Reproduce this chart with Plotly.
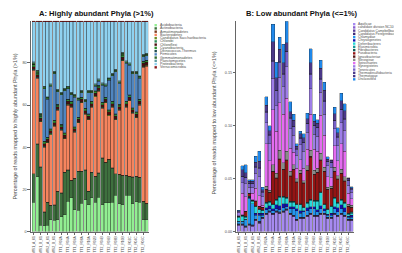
import plotly.graph_objects as go

W, H = 402, 253

samples = ["WS1_A_01", "WS1_A_02", "WS1_B_01", "WS1_B_02", "WS2_A_01", "WS2_A_02", "WS2_B_01",
           "TT1_R01A", "TT1_R02A", "TT1_R03A", "TT1_R04A", "TT1_R05A", "TT1_R06A", "TT1_R07A",
           "TT1_R08A", "TT1_R09A", "TT1_R10A", "TT2_R01B", "TT2_R02B", "TT2_R03B", "TT2_R04B",
           "TT2_R05B", "TT2_R06B", "TT2_R07B", "TT2_R08B", "TT2_R09B", "TT2_R10B", "TT3_R01C",
           "TT3_R02C", "TT3_R03C", "TT3_R04C", "TT3_R05C", "TT3_R06C", "TT3_R07C"]

# ---------------- Panel A: highly abundant phyla (% of reads) ----------------
a_phyla = ["Acidobacteria", "Actinobacteria", "Armatimonadetes", "Bacteroidetes",
           "Candidatus Saccharibacteria", "Chlorobi", "Chloroflexi", "Cyanobacteria",
           "Deinococcus-Thermus", "Firmicutes", "Gemmatimonadetes", "Planctomycetes",
           "Proteobacteria", "Verrucomicrobia"]
a_colors = ["#92ee92", "#3e703e", "#7a3b1e", "#f6845e", "#6b8e23", "#2e8b57", "#4a0f0f",
            "#2f8f2f", "#1f4f4f", "#5086c0", "#2e6b2e", "#5f9ea0", "#8fd2f0", "#8b1a1a"]

acidobacteria = [14, 26, 3, 2.8, 3, 5.5, 5.3, 5.5, 7, 8, 14.3, 15.9, 10.4, 10, 13.5, 15, 12.6,
                 16, 13.8, 16.3, 12.6, 13.7, 13.7, 14, 17.3, 13.2, 12.6, 17.3, 17.3, 13.2, 14.1,
                 14, 5.5, 5.5]
actinobacteria = [13.3, 15.4, 27.5, 6.3, 10.8, 6.7, 7.2, 13.3, 11.2, 20, 14.7, 8.1, 14.6, 18.5,
                  15, 14, 6.4, 12, 12.2, 11.3, 22.1, 19, 20.3, 16, 10, 13.8, 13.9, 9.2, 8.7,
                  12.5, 11.9, 11.5, 8.6, 7.7]
armatimonadetes = [0.2, 0.2, 0.2, 0.2, 0.2, 0.2, 0.2, 0.2, 0.2, 0.2, 0.2, 0.2, 0.2, 0.2, 0.2,
                   0.2, 0.2, 0.2, 0.2, 0.2, 0.2, 0.2, 0.2, 0.2, 0.2, 0.2, 0.2, 0.2, 0.2, 0.2,
                   0.2, 0.2, 0.2, 0.2]
bacteroidetes = [49.0, 31.0, 21.3, 30.7, 28.0, 33.6, 37.3, 38.5, 29.6, 15.8, 30.8, 34.8, 21.8,
                 22.8, 32.3, 26.5, 33.8, 30.8, 37.8, 38.7, 23.6, 28.1, 20.8, 28.8, 25.5, 30.3,
                 54.3, 32.3, 35.8, 30.1, 27.8, 34.3, 63.7, 65.1]
saccharibacteria = [0.3, 0.3, 0.3, 0.3, 0.3, 0.3, 0.3, 0.3, 0.3, 0.3, 0.3, 0.3, 0.3, 0.3, 0.3,
                    0.3, 0.3, 0.3, 0.3, 0.3, 0.3, 0.3, 0.3, 0.3, 0.3, 0.3, 0.3, 0.3, 0.3, 0.3,
                    0.3, 0.3, 0.3, 0.3]
chlorobi = [0.2, 0.2, 0.2, 0.2, 0.2, 0.2, 0.2, 0.2, 0.2, 0.2, 0.2, 0.2, 0.2, 0.2, 0.2, 0.2,
            0.2, 0.2, 0.2, 0.2, 0.2, 0.2, 0.2, 0.2, 0.2, 0.2, 0.2, 0.2, 0.2, 0.2, 0.2, 0.2,
            0.2, 0.2]
chloroflexi = [1.2, 1.2, 1.2, 1.2, 1.2, 1.2, 1.2, 1.2, 1.2, 1.2, 1.2, 1.2, 1.2, 1.2, 1.2, 1.2,
               1.2, 1.2, 1.2, 1.2, 1.2, 1.2, 1.2, 1.2, 1.2, 1.2, 1.2, 1.2, 1.2, 1.2, 1.2, 1.2,
               1.2, 1.2]
cyanobacteria = [0.8, 0.8, 0.8, 0.8, 0.8, 0.8, 0.8, 0.8, 0.8, 0.8, 0.8, 0.8, 0.8, 0.8, 0.8,
                 0.8, 0.8, 0.8, 0.8, 0.8, 0.8, 0.8, 0.8, 0.8, 0.8, 0.8, 0.8, 0.8, 0.8, 0.8,
                 0.8, 0.8, 0.8, 0.8]
deinococcus = [0.3, 0.3, 0.3, 0.3, 0.3, 0.3, 0.3, 0.3, 0.3, 0.3, 0.3, 0.3, 0.3, 0.3, 0.3,
               0.3, 0.3, 0.3, 0.3, 0.3, 0.3, 0.3, 0.3, 0.3, 0.3, 0.3, 0.3, 0.3, 0.3, 0.3,
               0.3, 0.3, 0.3, 0.3]
firmicutes = [0, 0, 0, 25, 18, 20, 22, 6, 14, 20, 5, 3, 14, 8, 2, 3, 10, 4, 2, 2, 8, 5, 14,
              12, 20, 10, 0, 18, 14, 16, 18, 10, 2, 2]
gemmatimonadetes = [0.8, 0.8, 0.8, 0.8, 0.8, 0.8, 0.8, 0.8, 0.8, 0.8, 0.8, 0.8, 0.8, 0.8,
                    0.8, 0.8, 0.8, 0.8, 0.8, 0.8, 0.8, 0.8, 0.8, 0.8, 0.8, 0.8, 0.8, 0.8,
                    0.8, 0.8, 0.8, 0.8, 0.8, 0.8]
planctomycetes = [0.4, 0.4, 0.4, 0.4, 0.4, 0.4, 0.4, 0.4, 0.4, 0.4, 0.4, 0.4, 0.4, 0.4, 0.4,
                  0.4, 0.4, 0.4, 0.4, 0.4, 0.4, 0.4, 0.4, 0.4, 0.4, 0.4, 0.4, 0.4, 0.4, 0.4,
                  0.4, 0.4, 0.4, 0.4]
proteobacteria = [19.0, 22.9, 43.5, 30.5, 35.5, 29.5, 23.5, 32.0, 33.5, 31.5, 30.5, 33.5, 34.5,
                  36.0, 32.5, 36.8, 32.5, 32.5, 29.5, 27.0, 29.0, 29.5, 26.5, 24.5, 22.5, 28.0,
                  14.5, 18.5, 19.5, 23.5, 23.5, 25.5, 15.5, 15.0]
verrucomicrobia = [0.5, 0.5, 0.5, 0.5, 0.5, 0.5, 0.5, 0.5, 0.5, 0.5, 0.5, 0.5, 0.5, 0.5, 0.5,
                   0.5, 0.5, 0.5, 0.5, 0.5, 0.5, 0.5, 0.5, 0.5, 0.5, 0.5, 0.5, 0.5, 0.5, 0.5,
                   0.5, 0.5, 0.5, 0.5]
a_values = [acidobacteria, actinobacteria, armatimonadetes, bacteroidetes, saccharibacteria,
            chlorobi, chloroflexi, cyanobacteria, deinococcus, firmicutes, gemmatimonadetes,
            planctomycetes, proteobacteria, verrucomicrobia]

# ---------------- Panel B: low abundant phyla (% of reads) ----------------
b_phyla = ["Aquificae", "candidate division NC10", "Candidatus Campbellbacteria",
           "Candidatus Peregrinibacteria", "Chlamydiae", "Chrysiogenetes", "Deferribacteres",
           "Elusimicrobia", "Fibrobacteres", "Fusobacteria", "Ignavibacteriae", "Nitrospirae",
           "Spirochaetes", "Synergistetes", "Tenericutes", "Thermodesulfobacteria",
           "Thermotogae", "Unclassified"]
b_colors = ["#a68af0", "#8a5fd0", "#5a3f9a", "#3e2a78", "#2396ee", "#1010b0", "#28dada",
            "#1a9a9a", "#105858", "#941414", "#5a1a1a", "#8a8a8a", "#e46cf0", "#9e7ee8",
            "#7660c8", "#4b3a8c", "#4a3888", "#2088ea"]

aquificae = [0.006, 0.006, 0.004, 0.006, 0.005, 0.010, 0.008, 0.012, 0.016, 0.018, 0.016, 0.018,
             0.017, 0.018, 0.020, 0.016, 0.014, 0.010, 0.012, 0.012, 0.014, 0.016, 0.014, 0.014,
             0.016, 0.016, 0.012, 0.012, 0.016, 0.014, 0.016, 0.014, 0.010, 0.010]
nc10 = [0.0005, 0.0005, 0.0005, 0.0005, 0.0005, 0.0005, 0.0005, 0.0005, 0.0005, 0.0005,
        0.0005, 0.0005, 0.0005, 0.0005, 0.0005, 0.0005, 0.0005, 0.0005, 0.0005, 0.0005,
        0.0005, 0.0005, 0.0005, 0.0005, 0.0005, 0.0005, 0.0005, 0.0005, 0.0005, 0.0005,
        0.0005, 0.0005, 0.0005, 0.0005]
campbellbacteria = [0.0005, 0.0005, 0.0005, 0.0005, 0.0005, 0.0005, 0.0005, 0.0005, 0.0005,
                    0.0005, 0.0005, 0.0005, 0.0005, 0.0005, 0.0005, 0.0005, 0.0005, 0.0005,
                    0.0005, 0.0005, 0.0005, 0.0005, 0.0005, 0.0005, 0.0005, 0.0005, 0.0005,
                    0.0005, 0.0005, 0.0005, 0.0005, 0.0005, 0.0005, 0.0005]
peregrinibacteria = [0.0005, 0.0005, 0.0005, 0.0005, 0.0005, 0.0005, 0.0005, 0.0005, 0.0005,
                     0.0005, 0.0005, 0.0005, 0.0005, 0.0005, 0.0005, 0.0005, 0.0005, 0.0005,
                     0.0005, 0.0005, 0.0005, 0.0005, 0.0005, 0.0005, 0.0005, 0.0005, 0.0005,
                     0.0005, 0.0005, 0.0005, 0.0005, 0.0005, 0.0005, 0.0005]
chlamydiae = [0.002, 0.002, 0.006, 0.024, 0.020, 0.004, 0.006, 0.002, 0.003, 0.002, 0.002,
              0.002, 0.002, 0.003, 0.002, 0.004, 0.006, 0.008, 0.004, 0.005, 0.004, 0.004,
              0.006, 0.003, 0.004, 0.002, 0.002, 0.002, 0.004, 0.003, 0.004, 0.003, 0.002, 0.002]
chrysiogenetes = [0.000, 0.000, 0.000, 0.001, 0.000, 0.002, 0.002, 0.002, 0.002, 0.003, 0.002,
                  0.004, 0.004, 0.004, 0.003, 0.002, 0.002, 0.002, 0.002, 0.001, 0.003, 0.002,
                  0.002, 0.002, 0.003, 0.002, 0.001, 0.002, 0.002, 0.004, 0.004, 0.004, 0.001,
                  0.002]
deferribacteres = [0.004, 0.005, 0.002, 0.000, 0.002, 0.006, 0.003, 0.002, 0.004, 0.003, 0.004,
                   0.004, 0.008, 0.006, 0.005, 0.004, 0.004, 0.004, 0.006, 0.003, 0.004, 0.006,
                   0.005, 0.008, 0.012, 0.004, 0.004, 0.006, 0.008, 0.004, 0.004, 0.004, 0.002,
                   0.002]
elusimicrobia = [0.0005, 0.0005, 0.0005, 0.0005, 0.0005, 0.0005, 0.0005, 0.0005, 0.0005,
                 0.0005, 0.0005, 0.0005, 0.0005, 0.0005, 0.0005, 0.0005, 0.0005, 0.0005,
                 0.0005, 0.0005, 0.0005, 0.0005, 0.0005, 0.0005, 0.0005, 0.0005, 0.0005,
                 0.0005, 0.0005, 0.0005, 0.0005, 0.0005, 0.0005, 0.0005]
fibrobacteres = [0.0005, 0.0005, 0.0005, 0.0005, 0.0005, 0.0005, 0.0005, 0.0005, 0.0005,
                 0.0005, 0.0005, 0.0005, 0.0005, 0.0005, 0.0005, 0.0005, 0.0005, 0.0005,
                 0.0005, 0.0005, 0.0005, 0.0005, 0.0005, 0.0005, 0.0005, 0.0005, 0.0005,
                 0.0005, 0.0005, 0.0005, 0.0005, 0.0005, 0.0005, 0.0005]
fusobacteria = [0.000, 0.000, 0.004, 0.002, 0.000, 0.004, 0.002, 0.002, 0.012, 0.008, 0.030,
                0.020, 0.035, 0.025, 0.035, 0.024, 0.030, 0.020, 0.028, 0.022, 0.030, 0.040,
                0.024, 0.026, 0.030, 0.030, 0.018, 0.016, 0.024, 0.022, 0.024, 0.020, 0.006,
                0.004]
ignavibacteriae = [0.0005, 0.0005, 0.0005, 0.0005, 0.0005, 0.0005, 0.0005, 0.0005, 0.0005,
                   0.0005, 0.0005, 0.0005, 0.0005, 0.0005, 0.0005, 0.0005, 0.0005, 0.0005,
                   0.0005, 0.0005, 0.0005, 0.0005, 0.0005, 0.0005, 0.0005, 0.0005, 0.0005,
                   0.0005, 0.0005, 0.0005, 0.0005, 0.0005, 0.0005, 0.0005]
nitrospirae = [0.000, 0.000, 0.000, 0.000, 0.000, 0.000, 0.000, 0.000, 0.003, 0.002, 0.006,
               0.004, 0.008, 0.006, 0.008, 0.004, 0.004, 0.003, 0.003, 0.002, 0.004, 0.006,
               0.004, 0.004, 0.006, 0.004, 0.002, 0.002, 0.004, 0.003, 0.004, 0.004, 0.002, 0.002]
spirochaetes = [0.000, 0.020, 0.014, 0.000, 0.006, 0.012, 0.010, 0.002, 0.040, 0.028, 0.052,
                0.040, 0.045, 0.046, 0.050, 0.022, 0.012, 0.010, 0.010, 0.012, 0.016, 0.034,
                0.020, 0.016, 0.036, 0.030, 0.010, 0.008, 0.020, 0.014, 0.024, 0.024, 0.010,
                0.006]
synergistetes = [0.003, 0.010, 0.012, 0.006, 0.006, 0.014, 0.018, 0.008, 0.020, 0.016, 0.030,
                 0.024, 0.024, 0.026, 0.030, 0.018, 0.016, 0.012, 0.014, 0.016, 0.016, 0.024,
                 0.014, 0.014, 0.022, 0.020, 0.010, 0.010, 0.016, 0.014, 0.020, 0.020, 0.008,
                 0.006]
tenericutes = [0.001, 0.006, 0.006, 0.003, 0.003, 0.006, 0.008, 0.004, 0.010, 0.008, 0.016,
               0.014, 0.014, 0.012, 0.014, 0.010, 0.008, 0.006, 0.006, 0.008, 0.008, 0.014,
               0.008, 0.008, 0.012, 0.012, 0.004, 0.004, 0.008, 0.008, 0.012, 0.010, 0.004, 0.003]
thermodesulfobacteria = [0.0005, 0.0005, 0.0005, 0.0005, 0.0005, 0.0005, 0.0005, 0.0005,
                         0.0005, 0.0005, 0.0005, 0.0005, 0.0005, 0.0005, 0.0005, 0.0005,
                         0.0005, 0.0005, 0.0005, 0.0005, 0.0005, 0.0005, 0.0005, 0.0005,
                         0.0005, 0.0005, 0.0005, 0.0005, 0.0005, 0.0005, 0.0005, 0.0005,
                         0.0005, 0.0005]
thermotogae = [0.000, 0.006, 0.004, 0.002, 0.002, 0.004, 0.006, 0.002, 0.006, 0.004, 0.018,
               0.012, 0.012, 0.010, 0.008, 0.006, 0.006, 0.002, 0.004, 0.004, 0.004, 0.010,
               0.004, 0.004, 0.010, 0.010, 0.002, 0.002, 0.006, 0.004, 0.008, 0.008, 0.002, 0.001]
unclassified = [0.0005, 0.0035, 0.0075, 0.0015, 0.0015, 0.0055, 0.0095, 0.0025, 0.008, 0.0045,
                0.0165, 0.0145, 0.0115, 0.0175, 0.0205, 0.0095, 0.0055, 0.0025, 0.0025, 0.004,
                0.0055, 0.0135, 0.0065, 0.0031, 0.0075, 0.0075, 0.0021, 0.0005, 0.006, 0.0045,
                0.0072, 0.0065, 0.0005, 0.001]
b_values = [aquificae, nc10, campbellbacteria, peregrinibacteria, chlamydiae, chrysiogenetes,
            deferribacteres, elusimicrobia, fibrobacteres, fusobacteria, ignavibacteriae,
            nitrospirae, spirochaetes, synergistetes, tenericutes, thermodesulfobacteria,
            thermotogae, unclassified]

FONT = "Liberation Sans, Arial, sans-serif"
GREY = "#4d4d4d"


def px(x):
    return x / W


def py(y):
    return 1 - y / H


fig = go.Figure()
for name, col, vals in zip(a_phyla, a_colors, a_values):
    fig.add_trace(go.Bar(x=samples, y=vals, name=name, marker_color=col,
                         marker_line=dict(color="#1a1a1a", width=0.3),
                         xaxis="x", yaxis="y", showlegend=False))
for name, col, vals in zip(b_phyla, b_colors, b_values):
    fig.add_trace(go.Bar(x=samples, y=vals, name=name, marker_color=col,
                         marker_line=dict(color="#1a1a1a", width=0.3),
                         xaxis="x2", yaxis="y2", showlegend=False))

axis_common = dict(showline=True, linecolor="#666", linewidth=0.6, ticks="outside",
                   tickcolor="#666", ticklen=2.5, tickwidth=0.6, showgrid=False, zeroline=False,
                   tickfont=dict(size=3.8, color=GREY, family=FONT))
xtick_font = dict(size=3.4, color=GREY, family=FONT)
n = len(samples)
fig.update_layout(
    width=W, height=H, margin=dict(l=0, r=0, t=0, b=0),
    paper_bgcolor="white", plot_bgcolor="white", barmode="stack", bargap=0.1,
    font=dict(family=FONT),
    xaxis=dict(domain=[px(22.7), px(140.5)], range=[-0.9, n - 0.45], tickangle=-90,
               **{**axis_common, "tickfont": xtick_font}),
    yaxis=dict(domain=[py(225.3), py(12.8)], range=[0, 100], tickvals=[0, 20, 40, 60, 80],
               anchor="x", **axis_common),
    xaxis2=dict(domain=[px(228.3), px(345.5)], range=[-0.75, n - 0.45], tickangle=-90,
                anchor="y2", **{**axis_common, "tickfont": xtick_font}),
    yaxis2=dict(domain=[py(225.3), py(13.3)], range=[0, 0.199], tickvals=[0, 0.05, 0.10, 0.15],
                tickformat=".2f", anchor="x2", **axis_common),
)

ann = []
ann.append(dict(text="<b>A: Highly abundant Phyla (>1%)</b>", x=px(88), y=py(5.5),
                xref="paper", yref="paper", showarrow=False, xanchor="center", yanchor="middle",
                font=dict(size=7.6, color="#111", family=FONT)))
ann.append(dict(text="<b>B: Low abundant Phyla (<=1%)</b>", x=px(293), y=py(5.5),
                xref="paper", yref="paper", showarrow=False, xanchor="center", yanchor="middle",
                font=dict(size=7.6, color="#111", family=FONT)))
ann.append(dict(text="Percentage of reads mapped to highly abundant Phyla (>1%)", x=px(7.5),
                y=py(120), xref="paper", yref="paper", showarrow=False, textangle=-90,
                xanchor="center", yanchor="middle", font=dict(size=5.4, color=GREY, family=FONT)))
ann.append(dict(text="Percentage of reads mapped to low abundant Phyla (<=1%)", x=px(206.5),
                y=py(116), xref="paper", yref="paper", showarrow=False, textangle=-90,
                xanchor="center", yanchor="middle", font=dict(size=5.4, color=GREY, family=FONT)))

shapes = []


def legend(names, colors, x0, y0, step, fsize):
    for i, (nm, c) in enumerate(zip(names, colors)):
        yc = y0 + i * step
        shapes.append(dict(type="rect", xref="paper", yref="paper",
                           x0=px(x0), x1=px(x0 + 2.4), y0=py(yc + 1.2), y1=py(yc - 1.2),
                           fillcolor=c, line=dict(width=0)))
        ann.append(dict(text=nm, x=px(x0 + 3.4), y=py(yc), xref="paper", yref="paper",
                        showarrow=False, xanchor="left", yanchor="middle",
                        font=dict(size=fsize, color=GREY, family=FONT)))


legend(a_phyla, a_colors, 146.5, 17.3, 3.27, 3.6)
legend(b_phyla, b_colors, 345.0, 16.3, 3.27, 3.3)

fig.update_layout(annotations=ann, shapes=shapes)
fig.write_html("out.html")
